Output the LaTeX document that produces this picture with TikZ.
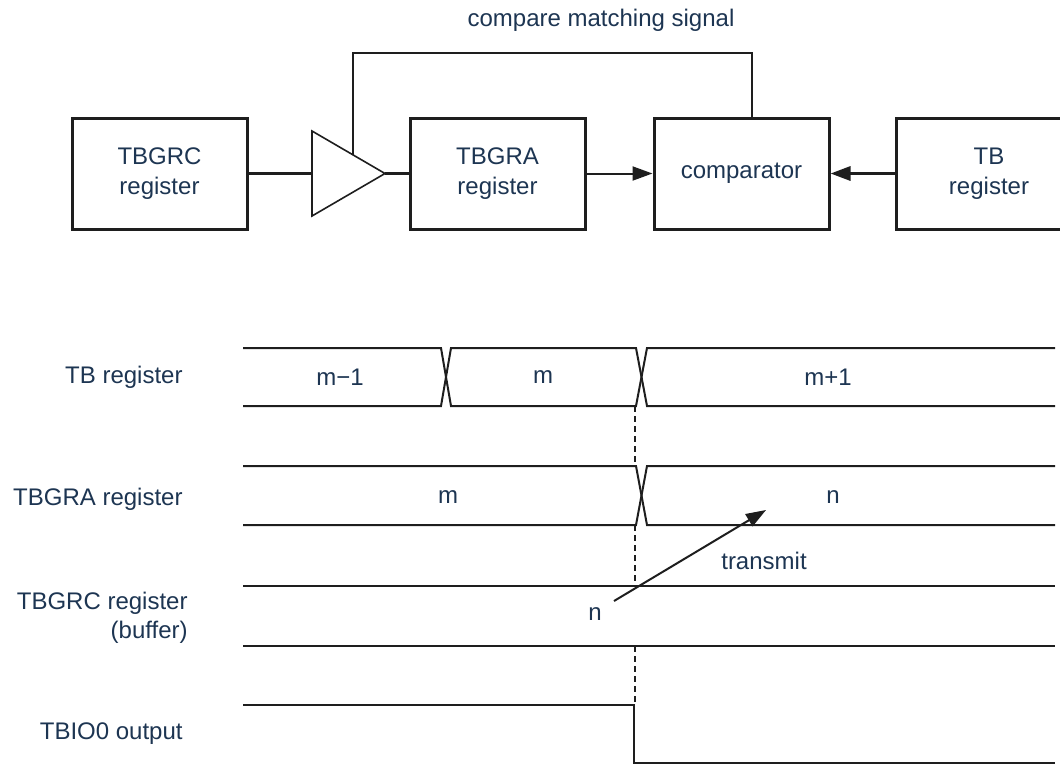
\documentclass[tikz,border=0pt]{standalone}
\usepackage{fontspec}
\setmainfont{Liberation Sans}
\usetikzlibrary{arrows.meta,positioning}
\definecolor{Ink}{HTML}{1D3552}
\definecolor{Wire}{HTML}{1E1E1E}
\tikzset{
  regbox/.style={draw=Wire,line width=1.5pt,minimum width=87.5pt,minimum height=55.5pt,align=center,font=\fontsize{12}{15}\selectfont,text=Ink},
  lbl/.style={font=\fontsize{12}{14.5}\selectfont,text=Ink,inner sep=0pt},
  amp/.style={draw=Wire,line width=0.8pt,line join=miter},
  wire/.style={draw=Wire,line width=1.3pt},
  thinwire/.style={draw=Wire,line width=0.8pt},
  arr/.style={-{Triangle[length=10pt,width=7pt]},draw=Wire,line width=1pt},
  arrthick/.style={-{Triangle[length=10pt,width=7pt]},draw=Wire,line width=1.6pt},
  sig/.style={draw=Wire,line width=1pt,line join=miter},
  mark line/.style={draw=Wire,line width=1pt,dash pattern=on 3pt off 2pt}
}

\begin{document}
\begin{tikzpicture}[x=0.5pt,y=-0.5pt]
  \path[use as bounding box,clip] (0,0) rectangle (1060,767);

  \node[lbl] (title) at (601,20) {compare matching signal};
  \node[regbox] (rc) at (159.5,173.5) {TBGRC\\register};
  \node[regbox] (ra) at (497.5,173.5) {TBGRA\\register};
  \node[regbox,right=33pt of ra] (cmp) {comparator};
  \node[regbox,minimum width=93pt,right=32pt of cmp] (tb) {TB\\register};

  \coordinate (ampin) at (312,173.5);
  \coordinate (amptip) at (385,173.5);
  \coordinate (tap) at (353,155);
  \coordinate (fbtop) at (752,53);
  \draw[amp] (312,131) -- (amptip) -- (312,216) -- cycle;
  \draw[wire] (rc.east) -- (ampin);
  \draw[wire] (amptip) -- (ra.west);
  \draw[thinwire] (tap) |- (fbtop) -- (fbtop |- cmp.north);
  \draw[arr] (ra.east) -- (cmp.west);
  \draw[arrthick] (tb.west) -- (cmp.east);

  \node[lbl,anchor=east] (tbname) at (183,377) {TB register};
  \node[lbl,anchor=east] (raname) at (183,499) {TBGRA register};
  \node[lbl,anchor=east,align=right] (rcname) at (188,618) {TBGRC register\\(buffer)};
  \node[lbl,anchor=east] (ioname) at (183,734) {TBIO0 output};

  \draw[sig] (243,348) -- (441,348) -- (451,406) -- (636,406) -- (647,348) -- (1055,348);
  \draw[sig] (243,406) -- (441,406) -- (451,348) -- (636,348) -- (647,406) -- (1055,406);
  \node[lbl] (tbv1) at (340,377) {m−1};
  \node[lbl] (tbv2) at (543,377) {m};
  \node[lbl] (tbv3) at (828,377) {m+1};

  \draw[sig] (243,466) -- (636,466) -- (647,525) -- (1055,525);
  \draw[sig] (243,525) -- (636,525) -- (647,466) -- (1055,466);
  \node[lbl] (rav1) at (448,497) {m};
  \node[lbl] (rav2) at (833,497) {n};

  \draw[sig] (243,586) -- (1055,586);
  \draw[sig] (243,646) -- (1055,646);
  \node[lbl] (rcv) at (595,614) {n};

  \draw[sig] (243,705) -- (634,705) -- (634,763) -- (1055,763);

  \draw[mark line] (635,406) -- (635,466);
  \draw[mark line] (635,525) -- (635,586);
  \draw[mark line] (635,646) -- (635,705);

  \coordinate (trsrc) at (614,601);
  \coordinate (trdst) at (766,510);
  \draw[arr] (trsrc) -- (trdst);
  \node[lbl] (trlbl) at (764,561) {transmit};
\end{tikzpicture}
\end{document}
